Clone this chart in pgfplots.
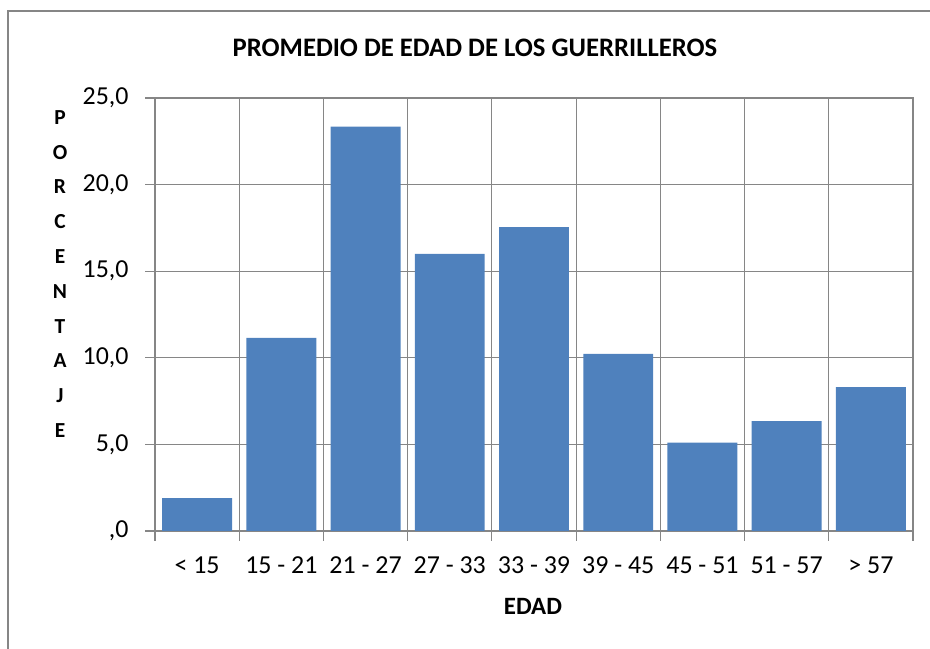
\documentclass[border=0pt]{standalone}
\usepackage{pgfplots}
\pgfplotsset{compat=1.18}
\usepackage{fontspec}
\setmainfont{Carlito}
\definecolor{barblue}{HTML}{4F81BD}
\definecolor{gridgray}{HTML}{868686}
\begin{document}
\begin{tikzpicture}[x=1bp,y=1bp]
\useasboundingbox (0,0) rectangle (930,649);
\draw[gridgray, line width=1.5bp] (8,-5) -- (8,638) -- (935,638);
\node[font=\fontsize{26.8}{30}\selectfont\bfseries] at (475,601) {PROMEDIO DE EDAD DE LOS GUERRILLEROS};
\node[font=\fontsize{21.5}{34.9}\selectfont\bfseries, align=center, anchor=north] at (60,542) {P\\O\\R\\C\\E\\N\\T\\A\\J\\E};
\node[font=\fontsize{25}{28}\selectfont\bfseries, anchor=base] at (533,34) {EDAD};
\begin{axis}[
  at={(155bp,118bp)}, anchor=south west,
  width=758bp, height=433bp, scale only axis,
  xmin=0.5, xmax=9.5, ymin=0, ymax=25,
  axis line style={gridgray, line width=1.2bp},
  xtick={1,...,9},
  xticklabels={{< 15},{15 - 21},{21 - 27},{27 - 33},{33 - 39},{39 - 45},{45 - 51},{51 - 57},{> 57}},
  minor xtick={0.5,1.5,...,9.5},
  xminorgrids,
  minor grid style={gridgray, line width=1.2bp},
  major x tick style={draw=none},
  minor x tick style={gridgray, line width=1.2bp},
  ytick={0,5,10,15,20,25},
  yticklabels={{,0},{5,0},{10,0},{15,0},{20,0},{25,0}},
  ymajorgrids,
  major grid style={gridgray, line width=1.2bp},
  y tick style={gridgray, line width=1.2bp},
  tick align=outside,
  major tick length=10bp,
  minor tick length=10bp,
  xtick pos=bottom, ytick pos=left,
  tick label style={font=\fontsize{26}{30}\selectfont},
  xticklabel style={yshift=-12bp},
  yticklabel style={xshift=-13bp},
  /pgf/number format/assume math mode=true,
]
\addplot[ybar, bar width=0.83, fill=barblue, draw=none] coordinates {
(1,1.9) (2,11.15) (3,23.35) (4,16.0) (5,17.55) (6,10.22) (7,5.1) (8,6.35) (9,8.3)};
\end{axis}
\end{tikzpicture}
\end{document}
